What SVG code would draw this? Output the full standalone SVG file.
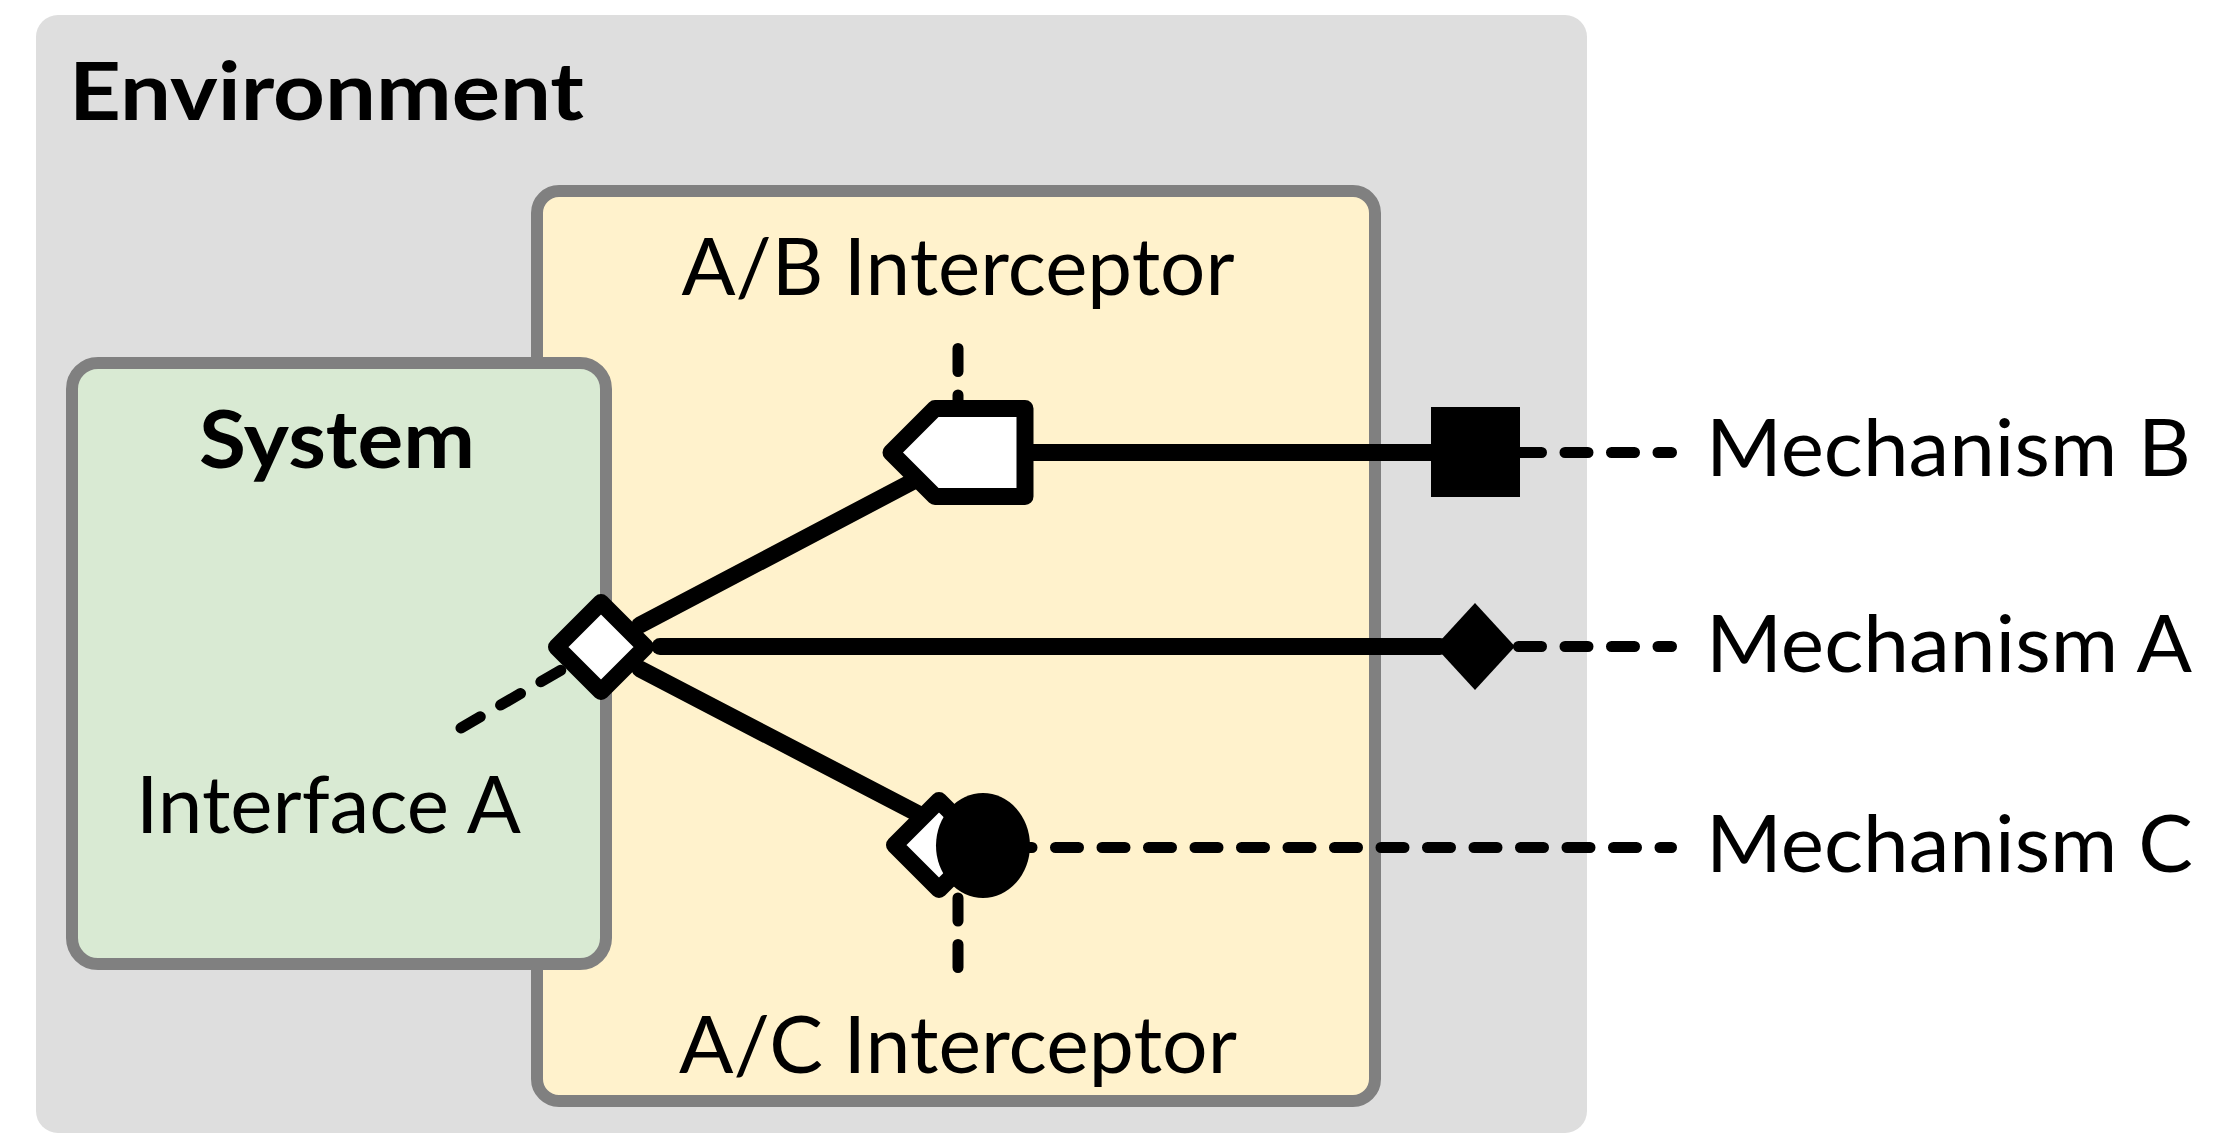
<svg xmlns="http://www.w3.org/2000/svg" width="2229" height="1136" viewBox="0 0 2229 1136">
<style>
.box{stroke:#808080;stroke-width:12}
.t{font-family:Lato,"Liberation Sans",sans-serif;font-size:80px;fill:#000}
.b{font-weight:bold}
.line{stroke:#000;stroke-width:17;fill:none;stroke-linecap:round}
.dash{stroke:#000;stroke-width:11;fill:none;stroke-linecap:round;stroke-dasharray:23 23.5}
.port{fill:#fff;stroke:#000;stroke-width:17;stroke-linejoin:round}
.solid{fill:#000;stroke:none}
</style>
<rect width="2229" height="1136" fill="#fff"/>
<g id="environment">
<rect x="36" y="15" width="1551" height="1118" rx="22" fill="#dedede"/>
<text class="t b" x="69" y="120" textLength="515" lengthAdjust="spacingAndGlyphs">Environment</text>
</g>
<g id="interceptors">
<rect class="box" x="537" y="191" width="838" height="910" rx="22" fill="#fff2cc"/>
<text class="t" x="958" y="295" text-anchor="middle" textLength="553" lengthAdjust="spacingAndGlyphs">A/B Interceptor</text>
<text class="t" x="958" y="1073" text-anchor="middle" textLength="558" lengthAdjust="spacingAndGlyphs">A/C Interceptor</text>
</g>
<g id="system">
<rect class="box" x="72" y="363" width="534" height="601" rx="26" fill="#d9ead3"/>
<text class="t b" x="337" y="468" text-anchor="middle" textLength="276" lengthAdjust="spacingAndGlyphs">System</text>
<text class="t" x="328.5" y="833" text-anchor="middle" textLength="385" lengthAdjust="spacingAndGlyphs">Interface A</text>
</g>
<g id="mechanism-labels">
<text class="t" x="1706" y="476" textLength="485" lengthAdjust="spacingAndGlyphs">Mechanism B</text>
<text class="t" x="1706" y="672" textLength="486" lengthAdjust="spacingAndGlyphs">Mechanism A</text>
<text class="t" x="1706" y="872" textLength="487" lengthAdjust="spacingAndGlyphs">Mechanism C</text>
</g>
<g id="connectors">
<path class="dash" d="M601 647 L461 728"/>
<path class="dash" d="M958 348.5 L958 408"/>
<path class="dash" d="M958 967.5 L958 898"/>
<path class="dash" d="M1472 452.5 L1671.5 452.5"/>
<path class="dash" d="M1472 646.5 L1671.5 646.5"/>
<path class="dash" d="M1009 847.5 L1671.5 847.5"/>
<path class="line" d="M640 625 L925 475"/>
<path class="line" d="M640 669 L930 820"/>
<path class="line" d="M660 646.5 L1440 646.5"/>
<path class="line" d="M1025 452.5 L1435 452.5"/>
</g>
<g id="interface-a">
<path class="port" d="M601 602.5 L645.5 647 L601 691.5 L556.5 647 Z"/>
</g>
<g id="ab-port">
<path class="port" d="M935 408.5 L1025 408.5 L1025 496.5 L935 496.5 L891 452.5 Z"/>
</g>
<g id="ac-port">
<path class="port" d="M939 800.5 L983.5 845 L939 889.5 L894.5 845 Z"/>
<ellipse class="solid" cx="983" cy="845.5" rx="47" ry="52.5"/>
</g>
<g id="mechanism-b-port">
<rect class="solid" x="1431" y="407" width="89" height="90"/>
</g>
<g id="mechanism-a-port">
<path class="solid" d="M1435 646.5 L1475 603 L1515 646.5 L1475 690 Z"/>
</g>
</svg>
